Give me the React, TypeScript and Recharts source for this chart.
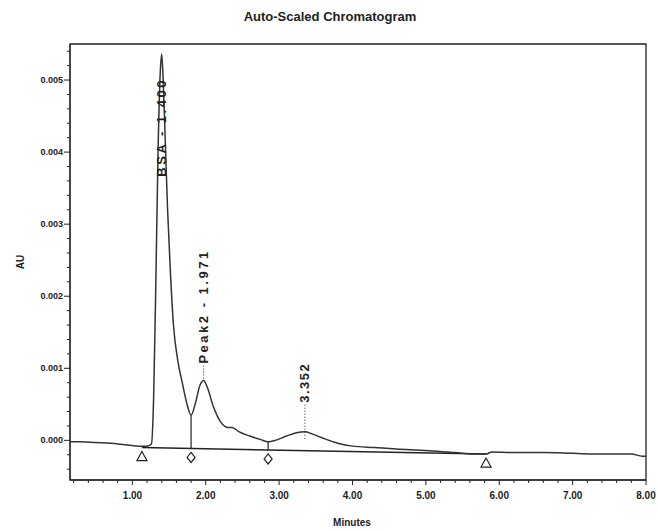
import React from "react";
import {
  ComposedChart,
  Line,
  XAxis,
  YAxis,
  ReferenceArea,
  ReferenceLine,
  ReferenceDot,
} from "recharts";

// detector trace, minutes vs AU
const times = [
  0.15, 0.3, 0.5, 0.7, 0.9, 1.1, 1.2, 1.26, 1.29, 1.32, 1.35, 1.38, 1.4, 1.42,
  1.45, 1.48, 1.52, 1.56, 1.62, 1.68, 1.74, 1.8, 1.86, 1.92, 1.971, 2.02, 2.1,
  2.2, 2.3, 2.36, 2.45, 2.6, 2.75, 2.85, 2.95, 3.1, 3.25, 3.352, 3.45, 3.6, 3.8,
  4.0, 4.3, 4.6, 5.0, 5.4, 5.7, 5.82, 5.9, 6.2, 6.6, 7.0, 7.4, 7.8, 7.95, 8.0,
];
const signal = [
  -0.00002, -0.00002, -0.00003, -0.00004, -0.00006, -0.00008, -0.00008,
  -0.00005, 0.0006, 0.0022, 0.004, 0.0051, 0.00536, 0.005, 0.0041, 0.0032,
  0.0023, 0.0016, 0.0011, 0.0008, 0.00052, 0.00035, 0.00052, 0.00076, 0.00083,
  0.00074, 0.00048, 0.00026, 0.00018, 0.00018, 0.00012, 0.00006, 0.00001,
  -0.00002, 0.0, 0.00006, 0.00011, 0.00012, 0.00009, 0.00003, -0.00004,
  -0.00008, -0.0001, -0.00012, -0.00014, -0.00017, -0.00019, -0.00019,
  -0.00016, -0.00017, -0.00017, -0.00018, -0.00019, -0.00019, -0.00022,
  -0.00022,
];

const peakTimes = [1.4, 1.971, 3.352];
const peakHeights = [0.00536, 0.00083, 0.00012];
const peakNames = ["BSA - 1.400", "Peak2 - 1.971", "3.352"];

// integration baseline and event marks
const baseTimes = [1.13, 5.82];
const baseValues = [-0.0001, -0.00019];
const markTimes = [1.13, 1.8, 2.85, 5.82];
const markKinds = ["tri", "dia", "dia", "tri"];
const dropTimes = [1.8, 2.85];
const dropTops = [0.00035, -0.00002];

const xMajor = [1, 2, 3, 4, 5, 6, 7, 8];
const xMinor = [0.2, 0.4, 0.6, 0.8, 1.2, 1.4, 1.6, 1.8, 2.2, 2.4, 2.6, 2.8, 3.2, 3.4, 3.6, 3.8, 4.2, 4.4, 4.6, 4.8, 5.2, 5.4, 5.6, 5.8, 6.2, 6.4, 6.6, 6.8, 7.2, 7.4, 7.6, 7.8];
const yMajor = [0, 0.001, 0.002, 0.003, 0.004, 0.005];
const yMinor = [-0.0004, -0.0002, 0.0002, 0.0004, 0.0006, 0.0008, 0.0012, 0.0014, 0.0016, 0.0018, 0.0022, 0.0024, 0.0026, 0.0028, 0.0032, 0.0034, 0.0036, 0.0038, 0.0042, 0.0044, 0.0046, 0.0048, 0.0052, 0.0054];

const X_DOMAIN: [number, number] = [0.15, 8.0];
const Y_DOMAIN: [number, number] = [-0.00055, 0.0055];

const data = times.map((t, i) => ({ t, au: signal[i] }));

const ink = "#222";
const font = "'Liberation Sans', Arial, sans-serif";

const baseAt = (t: number) =>
  baseValues[0] +
  ((t - baseTimes[0]) / (baseTimes[1] - baseTimes[0])) *
    (baseValues[1] - baseValues[0]);

function XTick(props: any) {
  const { x, y, payload } = props;
  const v = payload.value;
  const major = Math.abs(v - Math.round(v)) < 1e-6;
  return (
    <g>
      <line x1={x} x2={x} y1={y} y2={y + (major ? 5 : 3)} stroke={ink} strokeWidth={1} />
      {major && (
        <text x={x} y={y + 19} textAnchor="middle" fontSize={10} fontWeight="bold" fontFamily={font} fill={ink}>
          {v.toFixed(2)}
        </text>
      )}
    </g>
  );
}

function YTick(props: any) {
  const { x, y, payload } = props;
  const v = payload.value;
  const major = Math.abs(v * 1000 - Math.round(v * 1000)) < 1e-6;
  return (
    <g>
      <line x1={x} x2={x - (major ? 6 : 3)} y1={y} y2={y} stroke={ink} strokeWidth={1} />
      {major && (
        <text x={x - 7} y={y} textAnchor="end" dominantBaseline="central" fontSize={9} fontWeight="bold" fontFamily={font} fill={ink}>
          {v.toFixed(3)}
        </text>
      )}
    </g>
  );
}

function Marker(kind: string) {
  return (props: any) => {
    const { cx, cy } = props;
    const c = cy + 9;
    if (kind === "tri") {
      return (
        <path d={`M${cx},${c - 5} L${cx + 5},${c + 4} L${cx - 5},${c + 4} Z`} fill="#fff" stroke={ink} strokeWidth={1.2} />
      );
    }
    return (
      <path d={`M${cx},${c - 5} L${cx + 4},${c} L${cx},${c + 5} L${cx - 4},${c} Z`} fill="#fff" stroke={ink} strokeWidth={1.2} />
    );
  };
}

// label gaps in px from the apex
const labelGap = [24, -17, -29];

function PeakLabel(i: number) {
  return (props: any) => {
    const { cx, cy } = props;
    const ay = cy + labelGap[i];
    const below = labelGap[i] > 0;
    return (
      <g>
        {!below && (
          <line x1={cx} x2={cx} y1={ay + 2} y2={cy + (i === 2 ? 8 : -2)} stroke={ink} strokeWidth={1} strokeDasharray="1 2" />
        )}
        <text
          x={cx}
          y={ay}
          transform={`rotate(-90 ${cx} ${ay})`}
          textAnchor={below ? "end" : "start"}
          dominantBaseline="central"
          fontSize={13}
          fontWeight="bold"
          letterSpacing={i === 2 ? 1.5 : 2.5}
          fontFamily={font}
          fill={ink}
        >
          {peakNames[i]}
        </text>
      </g>
    );
  };
}

export default function App() {
  return (
    <div style={{ position: "absolute", left: 0, top: 0, width: 658, height: 531, background: "#fff" }}>
      <svg width={658} height={531} style={{ position: "absolute", left: 0, top: 0, pointerEvents: "none" }}>
        <text x={330} y={21} textAnchor="middle" fontSize={13} fontWeight="bold" fontFamily={font} fill={ink}>
          Auto-Scaled Chromatogram
        </text>
        <text x={20} y={262} transform="rotate(-90 20 262)" textAnchor="middle" dominantBaseline="central" fontSize={10} fontWeight="bold" fontFamily={font} fill={ink}>
          AU
        </text>
        <text x={352} y={526} textAnchor="middle" fontSize={10} fontWeight="bold" fontFamily={font} fill={ink}>
          Minutes
        </text>
      </svg>
      <ComposedChart
        width={658}
        height={531}
        data={data}
        margin={{ top: 44, right: 12, left: 10, bottom: 21 }}
      >
        <XAxis
          dataKey="t"
          type="number"
          domain={X_DOMAIN}
          allowDataOverflow
          ticks={[...xMinor, ...xMajor].sort((a, b) => a - b)}
          tick={<XTick />}
          tickLine={false}
          tickSize={0}
          tickMargin={0}
          height={30}
          stroke={ink}
          interval={0}
        />
        <YAxis
          type="number"
          domain={Y_DOMAIN}
          allowDataOverflow
          ticks={[...yMinor, ...yMajor].sort((a, b) => a - b)}
          tick={<YTick />}
          tickLine={false}
          tickSize={0}
          tickMargin={0}
          width={60}
          stroke={ink}
          interval={0}
        />
        <ReferenceArea
          x1={X_DOMAIN[0]}
          x2={X_DOMAIN[1]}
          y1={Y_DOMAIN[0]}
          y2={Y_DOMAIN[1]}
          fill="none"
          stroke={ink}
          strokeWidth={1.3}
        />
        <ReferenceLine
          segment={[
            { x: baseTimes[0], y: baseValues[0] },
            { x: baseTimes[1], y: baseValues[1] },
          ]}
          stroke={ink}
          strokeWidth={1.6}
        />
        {dropTimes.map((t, i) => (
          <ReferenceLine
            key={`drop-${t}`}
            segment={[
              { x: t, y: baseAt(t) },
              { x: t, y: dropTops[i] },
            ]}
            stroke={ink}
            strokeWidth={1.2}
          />
        ))}
        <Line
          dataKey="au"
          type="monotone"
          stroke="#333"
          strokeWidth={1.5}
          dot={false}
          activeDot={false}
          isAnimationActive={false}
        />
        {markTimes.map((t, i) => (
          <ReferenceDot
            key={`mark-${t}`}
            x={t}
            y={baseAt(t)}
            r={0}
            shape={Marker(markKinds[i])}
          />
        ))}
        {peakTimes.map((t, i) => (
          <ReferenceDot
            key={`peak-${t}`}
            x={t}
            y={peakHeights[i]}
            r={0}
            shape={PeakLabel(i)}
          />
        ))}
      </ComposedChart>
    </div>
  );
}
